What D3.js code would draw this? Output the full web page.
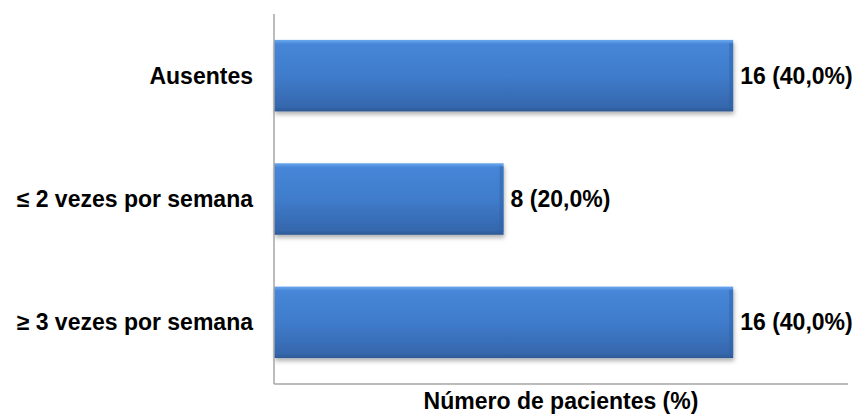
<!DOCTYPE html>
<html>
<head>
<meta charset="utf-8">
<script src="https://cdn.jsdelivr.net/npm/d3@7"></script>
<style>
  body { margin: 0; background: #fff; }
  text { font-family: "Liberation Sans", Arial, sans-serif; font-weight: bold; fill: #000; }
</style>
</head>
<body>
<script>
// data
var categories = ["Ausentes", "≤ 2 vezes por semana", "≥ 3 vezes por semana"];
var counts = [16, 8, 16];
var percents = ["40,0%", "20,0%", "40,0%"];
var axisTitle = "Número de pacientes (%)";

var W = 861, H = 414;
var margin = {top: 14, right: 13, bottom: 30, left: 274};
var width = W - margin.left - margin.right;
var height = H - margin.top - margin.bottom;

var svg = d3.select("body").append("svg")
    .attr("width", W)
    .attr("height", H);

var defs = svg.append("defs");

var grad = defs.append("linearGradient")
    .attr("id", "barGrad")
    .attr("x1", 0).attr("y1", 0).attr("x2", 0).attr("y2", 1);
grad.append("stop").attr("offset", "0%").attr("stop-color", "#6aa8ee");
grad.append("stop").attr("offset", "6%").attr("stop-color", "#4686d8");
grad.append("stop").attr("offset", "50%").attr("stop-color", "#3f7ccb");
grad.append("stop").attr("offset", "94%").attr("stop-color", "#3567ad");
grad.append("stop").attr("offset", "100%").attr("stop-color", "#2d5893");

var shadow = defs.append("filter")
    .attr("id", "shadow")
    .attr("x", "-5%").attr("y", "-10%")
    .attr("width", "115%").attr("height", "140%");
shadow.append("feDropShadow")
    .attr("dx", 1).attr("dy", 3)
    .attr("stdDeviation", 2)
    .attr("flood-color", "#000")
    .attr("flood-opacity", 0.3);

var g = svg.append("g")
    .attr("transform", "translate(" + margin.left + "," + margin.top + ")");

var x = d3.scaleLinear()
    .domain([0, 20])
    .range([0, width]);

var y = d3.scaleBand()
    .domain(categories)
    .range([0, height])
    .paddingInner(0.42)
    .paddingOuter(0.21);

var rows = categories.map(function (c, i) {
    return {cat: c, n: counts[i], pct: percents[i]};
});

// bars
var bar = g.selectAll(".bar")
    .data(rows)
    .enter()
    .append("g")
    .attr("class", "bar");

bar.append("rect")
    .attr("x", 0)
    .attr("y", d => y(d.cat))
    .attr("width", d => x(d.n))
    .attr("height", y.bandwidth())
    .attr("fill", "url(#barGrad)")
    .attr("filter", "url(#shadow)");

// bevel on the right end
bar.append("rect")
    .attr("x", d => x(d.n) - 4)
    .attr("y", d => y(d.cat) + 3)
    .attr("width", 4)
    .attr("height", y.bandwidth() - 6)
    .attr("fill", "#2f5f9f")
    .attr("opacity", 0.45);

// axes lines
g.append("line")
    .attr("x1", 0).attr("x2", 0)
    .attr("y1", 0).attr("y2", height)
    .style("stroke", "#a6a6a6")
    .style("stroke-width", 1.5);

g.append("line")
    .attr("x1", 0).attr("x2", width)
    .attr("y1", height).attr("y2", height)
    .style("stroke", "#a6a6a6")
    .style("stroke-width", 1.5);

// category labels
g.selectAll(".cat")
    .data(rows)
    .enter()
    .append("text")
    .attr("class", "cat")
    .attr("x", -21)
    .attr("y", d => y(d.cat) + y.bandwidth() / 2)
    .attr("dy", "0.35em")
    .attr("text-anchor", "end")
    .style("font-size", "23px")
    .text(d => d.cat);

// value labels
g.selectAll(".val")
    .data(rows)
    .enter()
    .append("text")
    .attr("class", "val")
    .attr("x", d => x(d.n) + 7)
    .attr("y", d => y(d.cat) + y.bandwidth() / 2)
    .attr("dy", "0.35em")
    .style("font-size", "23px")
    .text(d => d.n + " (" + d.pct + ")");

// axis title
g.append("text")
    .attr("x", width / 2)
    .attr("y", height + 25)
    .attr("text-anchor", "middle")
    .style("font-size", "23px")
    .text(axisTitle);
</script>
</body>
</html>
